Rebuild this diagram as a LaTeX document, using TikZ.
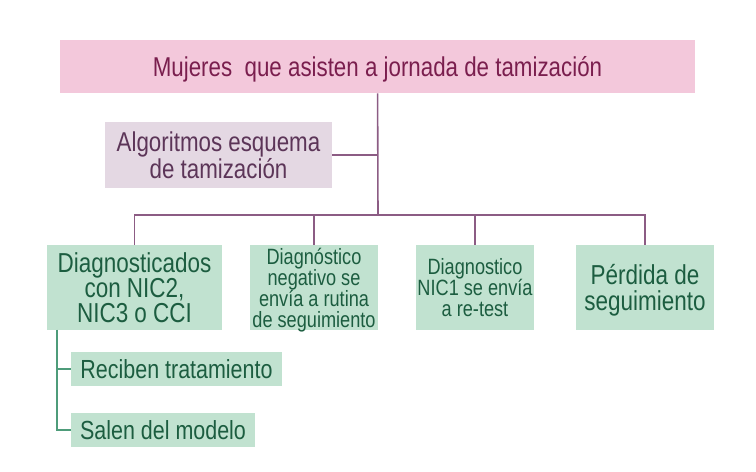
\documentclass[tikz,border=0pt]{standalone}
\usepackage{fontspec}
\setmainfont[FakeStretch=0.82]{Liberation Sans}
\definecolor{rosa}{HTML}{F3C8DB}
\definecolor{lila}{HTML}{E4D8E3}
\definecolor{verde}{HTML}{C1E2D0}
\definecolor{vino}{HTML}{7A1E4E}
\definecolor{morado}{HTML}{5C3558}
\definecolor{pino}{HTML}{1C5D40}
\definecolor{lineam}{HTML}{8C5C84}
\definecolor{lineav}{HTML}{4E9C7A}

\begin{document}
\begin{tikzpicture}
[x=0.02cm,y=-0.02cm,every node/.style={inner sep=0pt,align=center,text depth=0pt},
caja/.style={fill=verde,text=pino,font=\fontsize{15.6}{14.4}\selectfont},
chica/.style={fill=verde,text=pino,font=\fontsize{12.6}{12}\selectfont},
hoja/.style={fill=verde,text=pino,font=\fontsize{14.9}{14.5}\selectfont,minimum height=0.68cm}]
\useasboundingbox (0,0) rectangle (756,472);
\node[fill=rosa,text=vino,font=\fontsize{15.5}{15}\selectfont,minimum width=12.7cm,minimum height=1.06cm] (top) at (377.5,66.5) {Mujeres\ \ que asisten a jornada de tamización};
\node[fill=lila,text=morado,font=\fontsize{15.5}{14.5}\selectfont,minimum width=4.54cm,minimum height=1.32cm] (alg) at (218.5,155) {Algoritmos esquema\\de tamización};
\node[caja,minimum width=3.5cm,minimum height=1.7cm] (d1) at (134.5,287.5) {Diagnosticados\\con NIC2,\\NIC3 o CCI};
\node[chica,minimum width=2.56cm,minimum height=1.7cm] (d2) at (314,287.5) {Diagnóstico\\negativo se\\envía a rutina\\de seguimiento};
\node[chica,minimum width=2.36cm,minimum height=1.7cm] (d3) at (475,287.5) {Diagnostico\\NIC1 se envía\\a re-test};
\node[caja,minimum width=2.76cm,minimum height=1.7cm] (d4) at (645,287.5) {Pérdida de\\seguimiento};
\node[hoja,minimum width=4.22cm] (r1) at (176.5,369) {Reciben tratamiento};
\node[hoja,minimum width=3.68cm] (r2) at (163,430) {Salen del modelo};
\coordinate (j) at (378,215);
\coordinate (s) at (57,330);
\draw[lineam,line width=0.9pt] (top) -- (j);
\draw[lineam,line width=0.9pt] (alg) -- (alg -| j);
\foreach \to in {d1,d2,d3,d4}
\draw[lineam,line width=0.9pt] (j) -| (\to);
\foreach \to in {r1,r2}
\draw[lineav,line width=0.9pt] (s) |- (\to);
\end{tikzpicture}
\end{document}
